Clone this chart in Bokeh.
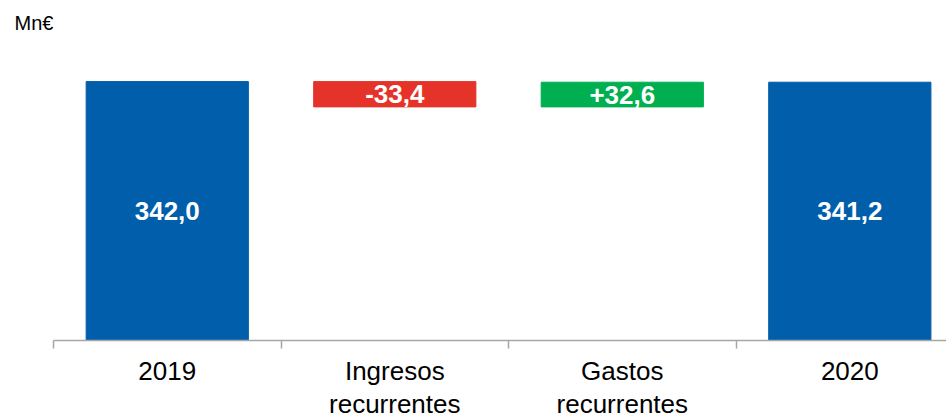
from bokeh.plotting import figure
from bokeh.models import Range1d, FixedTicker, ColumnDataSource
from bokeh.core.properties import value
from bokeh.embed import file_html
from bokeh.resources import INLINE

categories = ["2019", "Ingresos\nrecurrentes", "Gastos\nrecurrentes", "2020"]
start_value = 342.0
deltas = [-33.4, 32.6]
end_value = 341.2
unit_label = "Mn€"

blue = "#005EAB"
red = "#E5332A"
green = "#00B050"

# waterfall geometry from the values
bottoms, tops, colors, texts = [], [], [], []
bottoms.append(0.0); tops.append(start_value); colors.append(blue)
texts.append(f"{start_value:.1f}".replace(".", ","))
level = start_value
for d in deltas:
    new = level + d
    bottoms.append(min(level, new)); tops.append(max(level, new))
    colors.append(green if d > 0 else red)
    texts.append(f"{d:+.1f}".replace(".", ","))
    level = new
bottoms.append(0.0); tops.append(end_value); colors.append(blue)
texts.append(f"{end_value:.1f}".replace(".", ","))

xs = [i + 0.5 for i in range(len(categories))]
mids = [(b + t) / 2 for b, t in zip(bottoms, tops)]

src = ColumnDataSource(dict(x=xs, bottom=bottoms, top=tops, color=colors,
                            text=texts, mid=mids))

p = figure(frame_width=893, frame_height=300,
           x_range=Range1d(0, 3.925), y_range=Range1d(0, 396.3),
           output_backend="svg", toolbar_location=None,
           min_border_left=53, min_border_right=0, min_border_top=40, min_border_bottom=0)
p.outline_line_color = None
p.xgrid.visible = False
p.ygrid.visible = False
p.yaxis.visible = False
p.background_fill_color = "white"
p.border_fill_color = "white"

p.title.text = unit_label
p.title.text_font = "Liberation Sans"
p.title.text_font_size = "20px"
p.title.text_font_style = "normal"
p.title.text_color = "#000000"
p.title.align = "left"
p.title.offset = -39
p.title.standoff = 13

p.vbar(x="x", width=0.713, bottom="bottom", top="top", color="color", source=src)
p.text(x="x", y="mid", text="text", source=src, text_color="white",
       text_font=value("Liberation Sans"), text_font_style="bold",
       text_font_size="26px", text_align="center", text_baseline="middle")

ax = p.xaxis[0]
ax.ticker = FixedTicker(ticks=xs, minor_ticks=[0, 1, 2, 3])
ax.major_label_overrides = {x: c for x, c in zip(xs, categories)}
ax.major_label_text_font = "Liberation Sans"
ax.major_label_text_font_size = "26px"
ax.major_label_text_color = "#000000"
ax.major_label_text_line_height = 1.1
ax.major_label_standoff = 7
ax.major_tick_in = 0
ax.major_tick_out = 0
ax.major_tick_line_color = None
ax.minor_tick_in = 0
ax.minor_tick_out = 8
ax.minor_tick_line_color = "#A6A6A6"
ax.minor_tick_line_width = 1.5
ax.axis_line_color = "#A6A6A6"
ax.axis_line_width = 1.5

open("out.html", "w").write(file_html(p, INLINE))
